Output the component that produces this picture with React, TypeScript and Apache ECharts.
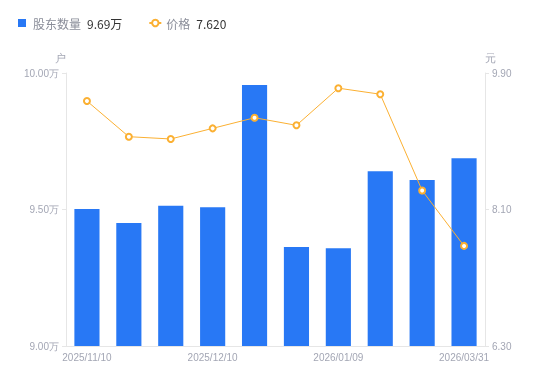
import React, { useEffect, useRef } from "react";
import * as echarts from "echarts";

const categories = [
  "2025/11/10", "2025/11/20", "2025/11/30", "2025/12/10", "2025/12/19",
  "2025/12/31", "2026/01/09", "2026/01/20", "2026/02/27", "2026/03/31",
];
const holders = [95020, 94510, 95140, 95080, 99560, 93630, 93580, 96400, 96080, 96880];
const prices = [9.53, 9.06, 9.03, 9.17, 9.31, 9.21, 9.7, 9.62, 8.35, 7.62];
const leftTicks = [90000, 95000, 100000];
const rightTicks = [6.3, 8.1, 9.9];
const legendHolders = "9.69万";
const legendPrice = "7.620";

const BAR = "#2878F5";
const LINE = "#FBB032";
const AXIS = "#E6E6E6";
const LABEL = "#A3A6B4";

export default function App() {
  const ref = useRef<HTMLDivElement>(null);
  useEffect(() => {
    const chart = echarts.init(ref.current!, null, { renderer: "svg" });
    chart.setOption({
      animation: false,
      legend: {
        left: 13,
        top: 12,
        itemGap: 26,
        itemWidth: 12,
        itemHeight: 8,
        data: [
          { name: "股东数量", icon: "path://M0 0H10V10H0Z" },
          { name: "价格" },
        ],
        formatter: (name: string) =>
          name === "股东数量"
            ? `{n|${name}}{v|${legendHolders}}`
            : `{n|${name}}{v|${legendPrice}}`,
        textStyle: {
          rich: {
            n: { fontSize: 12, color: "#8A8D99", padding: [0, 6, 0, 0], fontFamily: "Noto Sans CJK SC" },
            v: { fontSize: 12, color: "#333333", fontFamily: "Noto Sans CJK SC" },
          },
        },
      },
      grid: { left: 66, right: 65, top: 73, bottom: 35 },
      xAxis: {
        type: "category",
        data: categories,
        axisLine: { lineStyle: { color: AXIS } },
        axisTick: { show: false },
        axisLabel: { interval: 2, color: LABEL, fontSize: 10, margin: 6 },
      },
      yAxis: [
        {
          type: "value",
          min: 90000,
          max: 100000,
          interval: 5000,
          name: "户",
          nameGap: 10,
          nameTextStyle: { color: LABEL, fontSize: 11, align: "right" },
          axisLine: { show: true, lineStyle: { color: AXIS } },
          axisTick: { show: true, length: 4, lineStyle: { color: AXIS } },
          splitLine: { show: false },
          axisLabel: {
            color: LABEL,
            fontSize: 10,
            margin: 7,
            customValues: leftTicks,
            formatter: (v: number) => (v / 10000).toFixed(2) + "万",
          },
        },
        {
          type: "value",
          min: 6.3,
          max: 9.9,
          name: "元",
          nameGap: 10,
          nameTextStyle: { color: LABEL, fontSize: 11, align: "left" },
          axisLine: { show: true, lineStyle: { color: AXIS } },
          axisTick: { show: true, length: 4, lineStyle: { color: AXIS }, customValues: rightTicks },
          splitLine: { show: false },
          axisLabel: {
            color: LABEL,
            fontSize: 10,
            margin: 7,
            customValues: rightTicks,
            formatter: (v: number) => v.toFixed(2),
          },
        },
      ],
      series: [
        {
          name: "股东数量",
          type: "bar",
          data: holders,
          barWidth: "60%",
          itemStyle: { color: BAR },
        },
        {
          name: "价格",
          type: "line",
          yAxisIndex: 1,
          data: prices,
          symbol: "emptyCircle",
          symbolSize: 6,
          lineStyle: { color: LINE, width: 1 },
          itemStyle: { color: LINE, borderWidth: 1.5 },
        },
      ],
    });
    return () => chart.dispose();
  }, []);
  return (
    <div
      ref={ref}
      style={{ position: "fixed", left: 0, top: 0, width: 550, height: 381 }}
    />
  );
}
